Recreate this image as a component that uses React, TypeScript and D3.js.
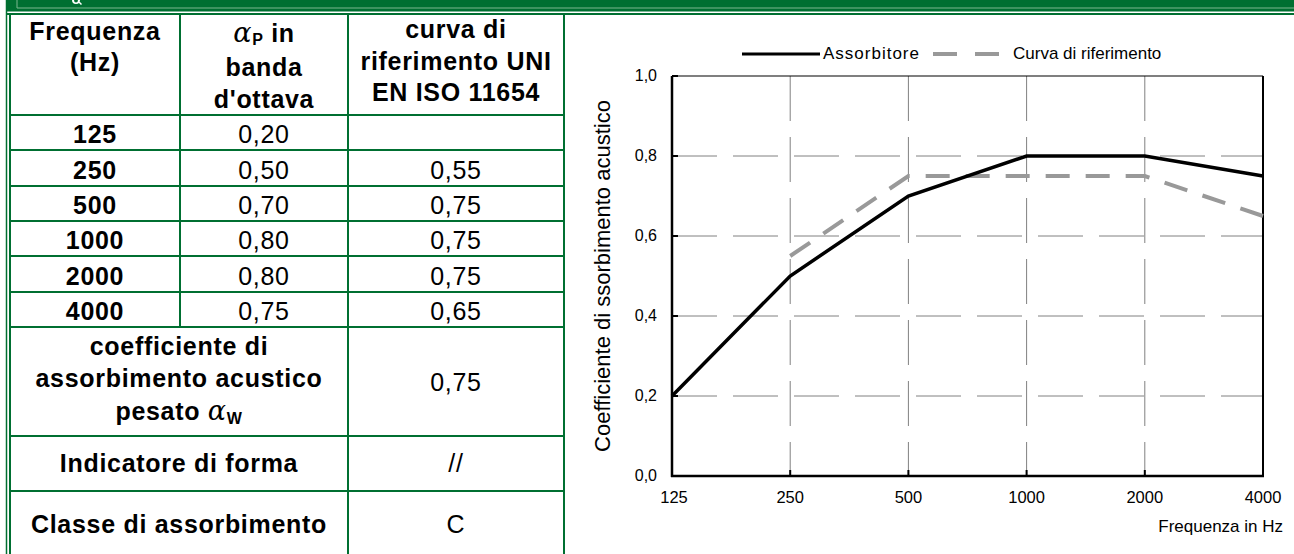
import React from 'react';
import * as d3 from 'd3';

const frequencies = ['125', '250', '500', '1000', '2000', '4000'];
const assorbitore = [0.2, 0.5, 0.7, 0.8, 0.8, 0.75];
const riferimento: (number | null)[] = [null, 0.55, 0.75, 0.75, 0.75, 0.65];
const yTicks = [0, 0.2, 0.4, 0.6, 0.8, 1.0];
const seriesNames = ['Assorbitore', 'Curva di riferimento'];
const alphaW = 0.75;
const shapeIndicator = '//';
const absorptionClass = 'C';

const GREEN = '#006F31';
const FONT = '"Liberation Sans", Arial, sans-serif';

const fmt2 = (v: number) => d3.format('.2f')(v).replace('.', ',');
const fmt1 = (v: number) => d3.format('.1f')(v).replace('.', ',');

export default function App() {
  const W = 1294, H = 554;
  // table geometry
  const colX = [10, 180, 348, 564];
  const rowY = [14, 115, 150, 186, 221, 256, 292, 327, 436, 491, 554];

  // chart scales
  const x = d3.scalePoint<string>().domain(frequencies).range([672, 1263]).padding(0);
  const y = d3.scaleLinear().domain([0, 1]).range([476, 76]);
  const [x0, x1] = x.range();
  const [y0, y1] = y.range();

  const lineA = d3.line<number>().x((_, i) => x(frequencies[i])!).y(d => y(d));
  const lineR = d3
    .line<number | null>()
    .defined(d => d != null)
    .x((_, i) => x(frequencies[i])!)
    .y(d => y(d as number));

  const cx = (c: number) => (colX[c] + colX[c + 1]) / 2;
  const mergedCx = (colX[0] + colX[2]) / 2;
  const LS = 0.7;

  return (
    <svg width={W} height={H} style={{ position: 'fixed', left: 0, top: 0, background: '#fff' }} fontFamily={FONT}>
      {/* top band */}
      <rect x={6} y={0} width={W - 6} height={11.5} fill={GREEN} />
      <line x1={17} x2={W} y1={8} y2={8} stroke="#7DB890" strokeWidth={1} />
      <line x1={17} x2={17} y1={0} y2={8} stroke="#7DB890" strokeWidth={1} />
      <path d="M72,0 Q72,4 76,4 Q80,4 80,0 L78,0 Q78,2.5 76,2.5 Q74,2.5 74,0 Z M78,2 L81,5 L82,4 L80,2 Z" fill="#fff" />
      <line x1={6} x2={W} y1={14} y2={14} stroke={GREEN} strokeWidth={2} />
      {/* left double border */}
      <line x1={6.5} x2={6.5} y1={0} y2={H} stroke={GREEN} strokeWidth={1.5} />
      <line x1={10} x2={10} y1={14} y2={H} stroke={GREEN} strokeWidth={2} />

      {/* table grid */}
      {rowY.slice(1, 10).map((ry, i) => (
        <line key={'h' + i} x1={colX[0]} x2={colX[3]} y1={ry} y2={ry} stroke={GREEN} strokeWidth={2} />
      ))}
      <line x1={colX[1]} x2={colX[1]} y1={rowY[0]} y2={rowY[7]} stroke={GREEN} strokeWidth={2} />
      <line x1={colX[2]} x2={colX[2]} y1={rowY[0]} y2={H} stroke={GREEN} strokeWidth={2} />
      <line x1={colX[3]} x2={colX[3]} y1={rowY[0]} y2={H} stroke={GREEN} strokeWidth={2} />

      {/* header */}
      <g fontSize={25} fontWeight="bold" textAnchor="middle" fill="#000" letterSpacing={LS}>
        <text x={cx(0)} y={40}>Frequenza</text>
        <text x={cx(0)} y={71}>(Hz)</text>
        <text x={cx(1)} y={42}>
          <tspan fontFamily='"DejaVu Serif", serif' fontStyle="italic" fontWeight="normal" fontSize={27}>α</tspan>
          <tspan fontSize={16} dy={3}>P</tspan>
          <tspan dy={-3}> in</tspan>
        </text>
        <text x={cx(1)} y={76}>banda</text>
        <text x={cx(1)} y={108}>d'ottava</text>
        <text x={cx(2)} y={38}>curva di</text>
        <text x={cx(2)} y={70}>riferimento UNI</text>
        <text x={cx(2)} y={101}>EN ISO 11654</text>
      </g>

      {/* data rows */}
      {frequencies.map((f, i) => {
        const by = (rowY[i + 1] + rowY[i + 2]) / 2 + 10.5;
        const r = riferimento[i];
        return (
          <g key={f} fontSize={25} textAnchor="middle" letterSpacing={LS}>
            <text x={cx(0)} y={by} fontWeight="bold">{f}</text>
            <text x={cx(1)} y={by}>{fmt2(assorbitore[i])}</text>
            {r != null && <text x={cx(2)} y={by}>{fmt2(r)}</text>}
          </g>
        );
      })}

      {/* bottom merged rows */}
      <g fontSize={25} textAnchor="middle" letterSpacing={LS}>
        <text x={mergedCx} y={355} fontWeight="bold">coefficiente di</text>
        <text x={mergedCx} y={387} fontWeight="bold">assorbimento acustico</text>
        <text x={mergedCx} y={420} fontWeight="bold">
          <tspan>pesato </tspan>
          <tspan fontFamily='"DejaVu Serif", serif' fontStyle="italic" fontWeight="normal" fontSize={27}>α</tspan>
          <tspan fontSize={16} dy={4}>W</tspan>
        </text>
        <text x={cx(2)} y={391}>{fmt2(alphaW)}</text>
        <text x={mergedCx} y={472} fontWeight="bold">Indicatore di forma</text>
        <text x={cx(2)} y={472}>{shapeIndicator}</text>
        <text x={mergedCx} y={533} fontWeight="bold">Classe di assorbimento</text>
        <text x={cx(2)} y={533}>{absorptionClass}</text>
      </g>

      {/* chart gridlines */}
      {yTicks.filter(t => t > 0 && t < 1).map(t => (
        <line key={'gy' + t} x1={x0} x2={x1} y1={y(t)} y2={y(t)} stroke="#808080" strokeWidth={1} strokeDasharray="45,16" />
      ))}
      {frequencies.slice(1, -1).map(f => (
        <line key={'gx' + f} x1={x(f)} x2={x(f)} y1={y1} y2={y0} stroke="#808080" strokeWidth={1} strokeDasharray="45,16" />
      ))}

      {/* plot border */}
      <line x1={x0} x2={x1} y1={y1} y2={y1} stroke="#000" strokeWidth={1.2} />
      <line x1={x1} x2={x1} y1={y1} y2={y0} stroke="#000" strokeWidth={2} />
      <line x1={x0} x2={x0} y1={y1} y2={y0 + 1} stroke="#000" strokeWidth={2.5} />
      <line x1={x0 - 1} x2={x1 + 1} y1={y0} y2={y0} stroke="#000" strokeWidth={2.5} />
      {yTicks.map(t => (
        <line key={'ty' + t} x1={x0} x2={x0 + 6} y1={y(t)} y2={y(t)} stroke="#000" strokeWidth={2} />
      ))}
      {frequencies.map(f => (
        <line key={'tx' + f} x1={x(f)} x2={x(f)} y1={y0} y2={y0 - 6} stroke="#000" strokeWidth={2} />
      ))}

      {/* series */}
      <path d={lineR(riferimento) || ''} fill="none" stroke="#999999" strokeWidth={4} strokeDasharray="24,16" />
      <path d={lineA(assorbitore) || ''} fill="none" stroke="#000" strokeWidth={3.5} strokeLinejoin="miter" />

      {/* axis labels */}
      <g fontSize={16} textAnchor="end">
        {yTicks.map(t => (
          <text key={'ly' + t} x={657} y={y(t) + 5}>{fmt1(t)}</text>
        ))}
      </g>
      <g fontSize={16.5} textAnchor="middle">
        {frequencies.map(f => (
          <text key={'lx' + f} x={x(f)! + (f === '125' ? 2 : 0)} y={503}>{f}</text>
        ))}
      </g>
      <text x={1283} y={532} fontSize={17} textAnchor="end">Frequenza in Hz</text>
      <text transform="translate(610,276) rotate(-90)" fontSize={22} textAnchor="middle">
        Coefficiente di ssorbimento acustico
      </text>

      {/* legend */}
      <line x1={742} x2={820} y1={54} y2={54} stroke="#000" strokeWidth={3} />
      <text x={823} y={59} fontSize={17} letterSpacing={1}>{seriesNames[0]}</text>
      <line x1={933} x2={1002} y1={54} y2={54} stroke="#999999" strokeWidth={4} strokeDasharray="24,18" />
      <text x={1013} y={59} fontSize={17}>{seriesNames[1]}</text>
    </svg>
  );
}
